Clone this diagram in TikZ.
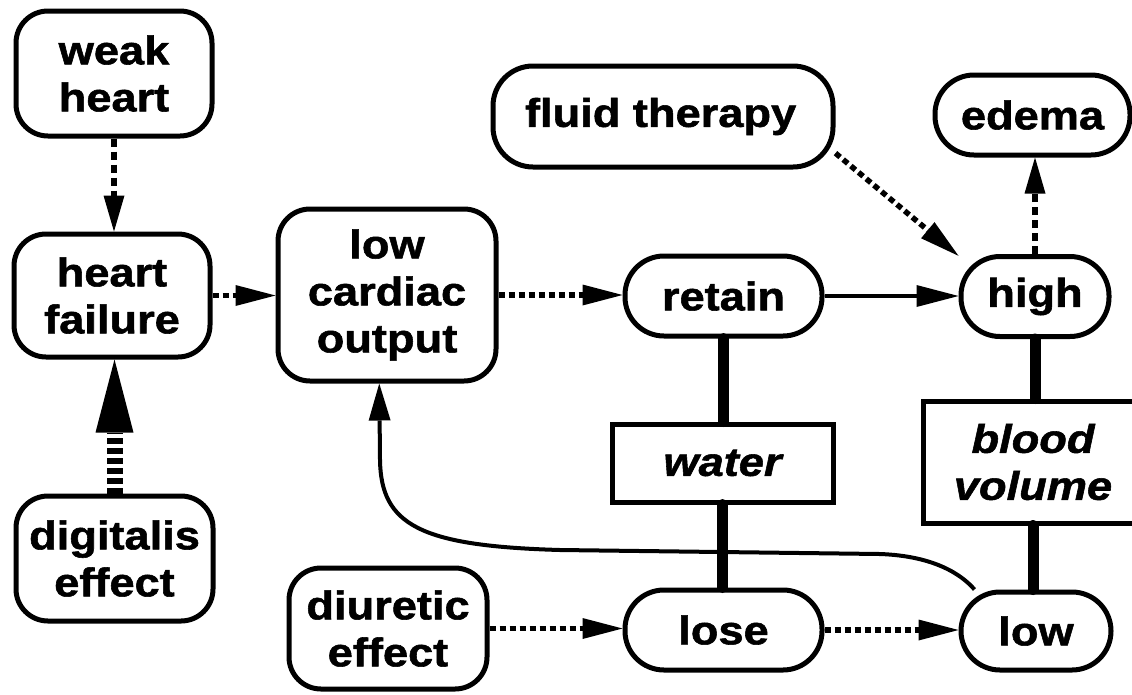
\documentclass[tikz,border=0pt]{standalone}
\usepackage{fontspec}
\newfontfamily\diagfont{Liberation Sans}[FakeStretch=1.13, FakeBold=1.4]
\usetikzlibrary{arrows.meta}

\begin{document}
\begin{tikzpicture}[x=1pt,y=-1pt,
  every node/.style={font=\diagfont\bfseries\fontsize{40}{47}\selectfont,
    align=center, inner sep=0pt, line width=5pt},
  roundbox/.style={draw, rounded corners=32pt},
  pill/.style={draw, rounded corners=39pt, minimum height=80pt},
  slot/.style={draw, font=\diagfont\bfseries\itshape\fontsize{40}{47}\selectfont},
  dotlink/.style={line width=5.5pt, dash pattern=on 6pt off 4pt,
    -{Triangle[length=40pt,width=21pt,line width=0pt]}},
  tallink/.style={line width=6pt, dash pattern=on 8pt off 5pt,
    -{Triangle[length=36pt,width=21pt,line width=0pt]}},
  stripelink/.style={line width=16pt, dash pattern=on 6pt off 4pt,
    -{Triangle[length=73pt,width=38pt,line width=0pt]}},
  causal/.style={line width=4.5pt, -{Triangle[length=42pt,width=22pt,line width=0pt]}},
  feedback/.style={line width=4pt, line join=round, -{Triangle[length=37pt,width=22pt,line width=0pt]}},
  bond/.style={line width=11pt, line cap=round}
]
\useasboundingbox (0,0) rectangle (1132,694);

% nodes of the causal model
\node[roundbox, minimum width=196pt, minimum height=125pt] (weak) at (114,73.5) {weak\\heart};
\node[roundbox, minimum width=196pt, minimum height=123pt] (hf) at (112,295.5) {heart\\failure};
\node[roundbox, minimum width=218pt, minimum height=172pt] (lco) at (387,295) {low\\cardiac\\output};
\node[roundbox, minimum width=197pt, minimum height=125pt] (dig) at (114.5,558.5) {digitalis\\effect};
\node[roundbox, minimum width=198pt, minimum height=121pt] (diu) at (388,628.5) {diuretic\\effect};
\node[draw, rounded corners=40pt, minimum width=340pt, minimum height=101pt] (fluid) at (663,116.5)
  {\makebox[276pt][l]{fluid therapy}};
\node[pill, minimum width=195pt] (edema) at (1032.5,115) {edema};
\node[pill, minimum width=197pt] (retain) at (723.5,296) {retain};
\node[pill, minimum width=148pt] (high) at (1035,296.5) {high};
\node[slot, minimum width=221pt, minimum height=78pt] (water) at (722.5,463) {water};
\node[slot, minimum width=220pt, minimum height=122pt] (blood) at (1033,462) {blood\\volume};
\node[pill, minimum width=197pt] (lose) at (723.5,630) {lose};
\node[pill, minimum width=150pt, minimum height=78pt] (low) at (1036,631) {low};

% influences
\draw[tallink] (weak.south) -- (weak.south |- hf.north);
\draw[stripelink] (dig.north) -- (dig.north |- hf.south);
\draw[dotlink] (hf.east) -- (hf.east -| lco.west);
\draw[dotlink] (lco.east) -- (lco.east -| retain.west);
\draw[causal] (retain.east) -- (retain.east -| high.west);
\draw[dotlink] (fluid.-12) -- (high.152);
\draw[tallink] (high.north) -- (high.north |- edema.south);
\draw[dotlink] (diu.east) -- (diu.east -| lose.west);
\draw[dotlink] (lose.east) -- (lose.east -| low.west);

% quantity links
\draw[bond] (retain.south) -- (retain.south |- water.north);
\draw[bond] (water.south) -- (water.south |- lose.north);
\draw[bond] (high.south) -- (high.south |- blood.north);
\draw[bond] (blood.south) -- (blood.south |- low.north);

% feedback from low blood volume to cardiac output
\draw[feedback] (low.146) .. controls (962,575) and (935,556) .. (880,554)
  -- (560,550) .. controls (420,546) and (381,525) .. (380,460) -- (lco.-95);
\end{tikzpicture}
\end{document}
